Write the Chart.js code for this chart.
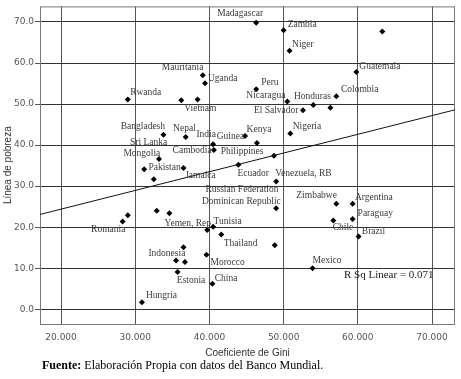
<!DOCTYPE html>
<html>
<head>
<meta charset="utf-8">
<script src="https://cdn.jsdelivr.net/npm/chart.js@4/dist/chart.umd.min.js"></script>
<style>
  html, body { margin: 0; padding: 0; background: #fff; }
  #wrap { width: 461px; height: 379px; }
</style>
</head>
<body>
<div id="wrap"><canvas id="giniChart"></canvas></div>
<script>
// Gini coefficient vs poverty line
const gini = [
  46.3, 50.0, 63.3, 50.8, 59.8, 39.1, 39.4, 46.3, 57.1, 29.0,
  36.2, 38.4, 50.5, 54.0, 56.3, 52.6, 50.9, 33.8, 44.8, 36.8,
  46.4, 40.5, 40.6, 48.7, 33.2, 43.9, 36.5, 31.2, 32.5, 49.0,
  57.1, 59.3, 49.0, 32.9, 34.6, 29.0, 59.3, 56.7, 28.3, 40.5,
  39.7, 41.6, 60.1, 48.8, 36.5, 39.6, 35.5, 36.7, 53.9, 35.7,
  40.4, 30.9
];
const poverty = [
  69.8, 68.0, 67.7, 63.0, 57.8, 57.0, 55.1, 53.6, 51.9, 51.1,
  50.9, 51.1, 50.6, 49.8, 49.1, 48.5, 42.8, 42.5, 42.2, 42.0,
  40.5, 40.2, 38.8, 37.4, 36.6, 35.2, 34.4, 34.1, 31.7, 31.1,
  25.7, 25.7, 24.6, 24.0, 23.4, 22.9, 22.0, 21.6, 21.4, 20.1,
  19.3, 18.2, 17.7, 15.6, 15.1, 13.3, 11.9, 11.5, 10.0, 9.1,
  6.2, 1.7
];
const countries = [
  "Madagascar", "Zambia", "", "Niger", "Guatemala", "Mauritania", "Uganda", "Peru", "Colombia", "Rwanda",
  "Vietnam", "", "Nicaragua", "Honduras", "", "El Salvador", "Nigeria", "Bangladesh", "Guinea", "Nepal",
  "Kenya", "India", "Cambodia", "Philippines", "Mongolia", "Ecuador", "Jamaica", "Pakistan", "Sri Lanka", "Venezuela, RB",
  "Zimbabwe", "Argentina", "Dominican Republic", "", "Russian Federation", "", "Paraguay", "Chile", "Romania", "Tunisia",
  "Yemen, Rep", "", "Brazil", "Thailand", "", "Morocco", "Indonesia", "", "Mexico", "Estonia",
  "China", "Hungria"
];
const xTicks = [20, 30, 40, 50, 60, 70];
const yTicks = [0, 10, 20, 30, 40, 50, 60, 70];
const xRange = [17.16, 73.1];
const yRange = [-3.6, 73.8];
// linear fit line as drawn, at the two ends of the x range
const fitValues = [23.1, 48.6];

// label placement (pixels from the point)
const labelOffset = {
  "Madagascar": [-39, -9], "Zambia": [4, -6], "Niger": [2.5, -6], "Guatemala": [3, -6],
  "Mauritania": [-41, -8], "Uganda": [3, -5], "Peru": [5, -7], "Colombia": [4.7, -7],
  "Rwanda": [2.3, -7.3], "Vietnam": [3, 8], "Nicaragua": [-41, -5.7], "Honduras": [-19.3, -8.7],
  "El Salvador": [-49, 0.7], "Nigeria": [2.4, -7], "Bangladesh": [-42.7, -8], "Guinea": [-28.3, 0],
  "Nepal": [-12.6, -8.7], "Kenya": [-10.3, -13.7], "India": [-16.7, -10], "Cambodia": [-41.3, 0],
  "Philippines": [-53.3, -4.3], "Mongolia": [-35.6, -6], "Ecuador": [-1, 8.3], "Jamaica": [1.7, 7.7],
  "Pakistan": [4.3, -1.4], "Sri Lanka": [-23.7, -37], "Venezuela, RB": [-1, -8],
  "Zimbabwe": [-40, -8.3], "Argentina": [2.3, -6], "Dominican Republic": [-74.3, -7],
  "Russian Federation": [36, -23.7], "Paraguay": [5, -5.6], "Chile": [-0.6, 6.7],
  "Romania": [-31.6, 7.6], "Tunisia": [0.4, -5.3], "Yemen, Rep": [-42.7, -6.6], "Brazil": [3.3, -5.3],
  "Thailand": [-51, -1.4], "Morocco": [4, 7.7], "Indonesia": [-27.6, -6.7], "Mexico": [0, -7.7],
  "Estonia": [-0.7, 8.3], "China": [2.3, -5.6], "Hungria": [4, -6.3]
};

const points = gini.map((g, i) => ({ x: g, y: poverty[i] }));
const fitLine = xRange.map((x, i) => ({ x: x, y: fitValues[i] }));

const extras = {
  id: "extras",
  beforeDatasetsDraw(chart) {
    const { ctx, chartArea: a } = chart;
    ctx.save();
    ctx.strokeStyle = "#777";
    ctx.lineWidth = 1;
    ctx.strokeRect(a.left + 0.5, a.top + 0.5, a.right - a.left - 1, a.bottom - a.top);
    ctx.restore();
  },
  afterDatasetsDraw(chart) {
    const { ctx } = chart;
    const xs = chart.scales.x, ys = chart.scales.y;
    ctx.save();
    ctx.font = "9.5px 'Liberation Serif'";
    ctx.fillStyle = "#3a3a3a";
    ctx.textAlign = "left";
    ctx.textBaseline = "middle";
    countries.forEach((name, i) => {
      if (!name) return;
      const off = labelOffset[name] || [3, -6];
      ctx.fillText(name, xs.getPixelForValue(gini[i]) + off[0], ys.getPixelForValue(poverty[i]) + off[1]);
    });
    ctx.font = "11px 'Liberation Serif'";
    ctx.fillStyle = "#222";
    ctx.fillText("R Sq Linear = 0.071", 344, 275);

    ctx.fillStyle = "#000";
    ctx.textBaseline = "alphabetic";
    ctx.font = "bold 12px 'Liberation Serif'";
    ctx.fillText("Fuente:", 42, 369);
    const w = ctx.measureText("Fuente: ").width;
    ctx.font = "12px 'Liberation Serif'";
    ctx.fillText("Elaboración Propia con datos del Banco Mundial.", 42 + w, 369);
    ctx.restore();
  }
};

new Chart(document.getElementById("giniChart"), {
  type: "scatter",
  data: {
    datasets: [
      {
        label: "Línea de pobreza",
        data: points,
        pointStyle: "rectRot",
        pointRadius: 3,
        backgroundColor: "#000",
        borderWidth: 0
      },
      {
        type: "line",
        label: "Lineal",
        data: fitLine,
        borderColor: "#111",
        borderWidth: 1,
        pointRadius: 0,
        fill: false
      }
    ]
  },
  options: {
    responsive: true,
    maintainAspectRatio: false,
    animation: false,
    layout: { padding: { top: 5, right: 6, left: 0, bottom: 0 } },
    plugins: { legend: { display: false }, tooltip: { enabled: false } },
    scales: {
      x: {
        type: "linear",
        min: xRange[0],
        max: xRange[1],
        afterBuildTicks: s => { s.ticks = xTicks.map(v => ({ value: v })); },
        afterFit: s => { s.height = 55; },
        grid: { color: "#555", drawTicks: false },
        border: { display: false },
        ticks: {
          padding: 8,
          color: "#555",
          font: { family: "DejaVu Sans", size: 9 },
          callback: v => v.toFixed(3)
        },
        title: {
          display: true,
          text: "Coeficiente de Gini",
          color: "#333",
          font: { family: "Liberation Sans", size: 10 },
          padding: { top: 0, bottom: 20 }
        }
      },
      y: {
        min: yRange[0],
        max: yRange[1],
        afterBuildTicks: s => { s.ticks = yTicks.map(v => ({ value: v })); },
        afterFit: s => { s.width = 40; },
        grid: { color: "#333", tickLength: 5, tickColor: "#555" },
        border: { display: false },
        ticks: {
          padding: 1,
          color: "#555",
          font: { family: "DejaVu Sans", size: 9 },
          callback: v => v.toFixed(1)
        },
        title: {
          display: true,
          text: "Línea de pobreza",
          color: "#333",
          font: { family: "Liberation Sans", size: 10 },
          padding: { top: 2, bottom: 0 }
        }
      }
    }
  },
  plugins: [extras]
});
</script>
</body>
</html>
